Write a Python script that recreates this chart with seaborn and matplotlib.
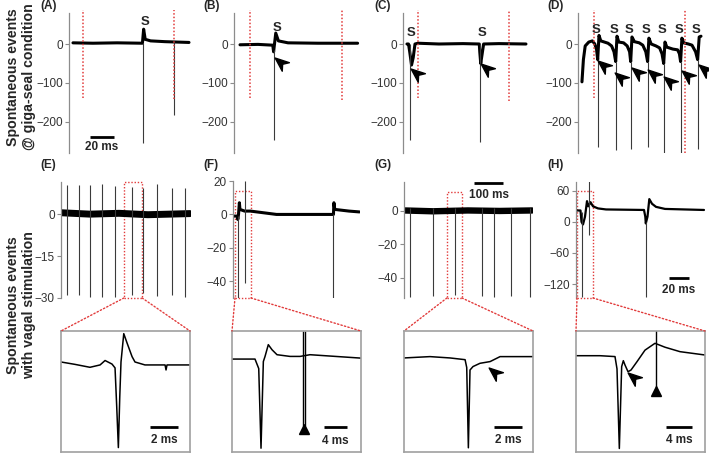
import matplotlib
matplotlib.use("Agg")
import matplotlib.pyplot as plt
import seaborn as sns
from matplotlib.path import Path
from matplotlib.markers import MarkerStyle
from matplotlib.transforms import Affine2D
from matplotlib.patches import Rectangle, ConnectionPatch

sns.set_style("white")
plt.rcParams['font.family'] = ['Liberation Sans', 'DejaVu Sans']

# ---------------- data (ms, mV) ----------------
# (A) giga-seal, single spike
a_t = [3.3, 20, 40, 61.2, 62.2, 63.5, 68, 80, 100]
a_v = [3, 2, 3, 2, 38, 12, 8, 6, 4]
a_spk_t = [61.7, 87.5]
a_spk_lo = [-254, -182]
a_spk_hi = [2, 4]
a_red_t = [11.7, 87.5]
a_red_lo = [-138, -140]
a_s_t = [63.3]
a_s_v = [57]
a_arr_t = []
a_arr_v = []

# (B)
b_t = [5, 20, 32.3, 33.0, 34.8, 37, 45, 70, 103]
b_v = [-2, -1, -3, -20, 28, 8, 3, 2, 2]
b_spk_t = [33.5]
b_spk_lo = [-246]
b_spk_hi = [-15]
b_red_t = [13.3, 90]
b_red_lo = [-138, -143]
b_s_t = [35.8]
b_s_v = [40]
b_arr_t = [38.3]
b_arr_v = [-46]

# (C)
c_t = [3.3, 4.6, 5.6, 7.1, 8.5, 10.0, 12.5, 30, 50, 63.6, 64.0, 64.8, 66.0, 67.2, 80, 102.5]
c_v = [0, 0, -20, -54, -35, 0, 2, 0, 1, 0, -20, -50, -25, 0, 1, 0]
c_spk_t = [5.9, 64.4]
c_spk_lo = [-246, -251]
c_spk_hi = [0, 0]
c_red_t = [12.5, 88.3]
c_red_lo = [-138, -147]
c_s_t = [6.7, 65.8]
c_s_v = [28, 28]
c_arr_t = [10.8, 69.2]
c_arr_v = [-75, -62]

# (D) repetitive spiking
d_t = [3.3, 4.5, 6, 9, 12, 14, 15.5, 16.4,
       17.5, 19, 22, 25, 28, 30, 31.4,
       32.5, 34, 38, 41, 43, 43.9,
       45, 47, 51, 54, 56.5, 58,
       59.1, 61, 65, 68, 70, 71.4,
       72.5, 74, 79, 83, 84.5, 85.5,
       86.6, 88, 92, 95, 98, 99.7,
       101, 102.5]
d_v = [-97, -40, -5, 5, 8, 0, -15, -40,
       22, 8, 5, 2, -5, -20, -45,
       20, 5, 3, -5, -20, -45,
       18, 6, 3, -3, -20, -45,
       15, 0, -5, -10, -25, -50,
       5, -8, -13, -15, -25, -45,
       15, 3, 0, -3, -20, -40,
       18, 20]
d_spk_t = [16.7, 31.7, 44.2, 58.3, 71.7, 85.8, 100.0]
d_spk_lo = [-264, -272, -268, -264, -279, -279, -268]
d_spk_hi = [-40, -45, -45, -45, -50, -45, -40]
d_red_t = [13.3, 89.2]
d_red_lo = [-138, -280]
d_s_t = [15.4, 30.4, 42.9, 57.0, 70.4, 84.5, 98.7]
d_s_v = [36, 36, 36, 36, 36, 36, 36]
d_arr_t = [21.1, 35, 48.9, 62.8, 76.1, 90.6, 105]
d_arr_v = [-54, -84, -71, -77, -94, -79, -64]

# (E) vagal stimulation
e_t = [0, 100, 200, 300, 445]
e_v = [0.5, 0, 0.3, -0.2, 0.2]
e_spk_t = [19.5, 62.1, 100, 140.3, 186.3, 243.7, 283.9, 332.2, 383.9, 427.8]
e_spk_lo = [-28.9, -28.9, -29.5, -29.5, -29.5, -28.9, -28.3, -29.3, -28.9, -29.5]
e_spk_hi = [10.4, 10.4, 10.4, 10.7, 10.0, 9.8, 9.2, 10.7, 9.5, 9.5]
e_box = [217, 280, -30, 11.4]

# (F)
f_t = [0, 15, 16.5, 19, 22, 24, 40, 60, 150, 340, 346.5, 348, 351, 400, 436]
f_v = [-1, -1, -3, 0, 7, 3, 2, 2, 0, 0, 0, 7, 3, 2, 1.5]
f_spk_t = [17.2, 41.4, 345]
f_spk_lo = [-50, -41, -50]
f_spk_hi = [-1, 20, 0]
f_box = [6.9, 62, -50, 13.9]

# (G)
g_t = [0, 100, 220, 330, 442]
g_v = [0.3, -0.2, 0.3, 0, 0.3]
g_spk_t = [20.7, 101.2, 176, 270, 310.5, 368, 434.7]
g_spk_lo = [-51.5, -51, -50.5, -51, -51.5, -51, -51.5]
g_spk_hi = [2, 2, 2, 2, 2, 2, 2]
g_box = [148, 200, -52, 11.3]

# (H)
h_t = [0, 4.5, 5.5, 7, 9, 11, 12.3, 14.5, 17, 22, 30, 68, 69.3, 69.8,
       71.5, 73.3, 76, 80, 89, 128]
h_v = [22, 22, 0, -5, 10, 40, 30, 38, 30, 26, 24, 23, 10, -3,
       10, 44, 35, 29, 25, 23]
h_spk_t = [6.3, 13.3, 70.2]
h_spk_lo = [-146, -25, -146]
h_spk_hi = [20, 78, 0]
h_box = [1, 17, -147, 60]

# insets (expanded time base)
ei_t = [0, 1.0, 2.09, 2.82, 3.18, 3.68, 3.9, 4.02, 4.14, 4.24, 4.33,
        4.53, 4.77, 5.13, 5.34, 6.06, 7.51, 7.58, 7.65, 9.31]
ei_v = [0, -0.8, -1.8, -1.0, 0.5, -0.7, -2.0, -15, -29, -12, 0,
        9.6, 6.4, 1.8, 0, -1.0, -1.0, -2.7, -1.0, -1.0]

fi_t = [0, 3.94, 4.58, 4.97, 5.37, 5.66, 6.22, 6.86, 7.71, 9.94, 11.66, 13.37, 22.1]
fi_v = [0, 0, -5, -47, -1.3, 1.4, 7.6, 4.9, 2.3, 1.4, 1.4, 2.3, 0.5]
fi_art_t = [12.12, 12.51]
fi_art_lo = [-35.4, -35.4]
fi_art_hi = [15, 15]

gi_t = [0, 1.9, 3.37, 4.47, 4.59, 4.71, 4.83, 5.05, 5.56, 6.3, 7.03, 9.44]
gi_v = [0, 0.7, 0, -0.9, -5, -47, -6.3, -4.5, -2.8, -1.9, 0.7, 0.7]
gi_arr = [6.61, -7.3]

hi_t = [0, 3.6, 5.85, 6.15, 6.5, 6.85, 7.1, 7.35, 7.8, 8.25, 9.15,
        10.35, 11.85, 13.35, 15.6, 19.35]
hi_v = [22.5, 22.5, 21, 0, -136, 4, 14, 6.6, -4.8, -2, 12.3,
        32, 43.7, 37, 29.4, 23.7]
hi_art_t = [11.93]
hi_art_lo = [-36]
hi_art_hi = [70]
hi_arr = [8.6, -14.4]

# ---------------- layout ----------------
W, H = 709, 453
RED = '#e23b3b'
GREY = '#8c8c8c'

fig = plt.figure(figsize=(W / 100, H / 100), dpi=100)


def px_ax(l, t, r, b):
    return fig.add_axes([l / W, 1 - b / H, (r - l) / W, (b - t) / H])


def fx(x):
    return x / W


def fy(y):
    return 1 - y / H


# arrowhead marker (notched), pointing up-left
arr_path = Path([(1, 0), (-1, 0.8), (-0.4, 0), (-1, -0.8), (1, 0)],
                [Path.MOVETO, Path.LINETO, Path.LINETO, Path.LINETO, Path.CLOSEPOLY])
arr_mk = MarkerStyle(arr_path, transform=Affine2D().rotate_deg(140))


def trace_ax(rect, xlim, ylim, yticks):
    ax = px_ax(*rect)
    ax.set_xlim(*xlim)
    ax.set_ylim(*ylim)
    for s in ['top', 'right', 'bottom']:
        ax.spines[s].set_visible(False)
    ax.spines['left'].set_color(GREY)
    ax.spines['left'].set_linewidth(0.9)
    ax.set_xticks([])
    ax.set_yticks(yticks)
    ax.tick_params(axis='y', length=3, width=0.8, color=GREY, labelsize=8.5,
                   labelcolor='#333333', pad=1.5, direction='out', left=True)
    ax.patch.set_alpha(0)
    return ax


def draw(ax, t, v, spk_t, spk_lo, spk_hi, lw):
    sns.lineplot(x=t, y=v, ax=ax, color='k', lw=lw, estimator=None, sort=False)
    ax.vlines(spk_t, spk_lo, spk_hi, colors='#3a3a3a', lw=0.8)
    ax.set(xlabel='', ylabel='')


def inset_ax(rect, xlim, ylim):
    ax = px_ax(*rect)
    ax.set_xlim(*xlim)
    ax.set_ylim(*ylim)
    ax.set_xticks([])
    ax.set_yticks([])
    for s in ax.spines.values():
        s.set_color('#a0a0a0')
        s.set_linewidth(1.2)
    return ax


def scalebar(ax, t0, t1, v, vt, label):
    ax.plot([t0, t1], [v, v], color='k', lw=2, clip_on=False, solid_capstyle='butt')
    ax.text((t0 + t1) / 2, vt, label, ha='center', va='center', fontsize=8.5,
            fontweight='bold', clip_on=False)


# ---- top row ----
top_ylim = (-279.5, 79.5)
top_ticks = [0, -100, -200]
top_panels = [
    ((69, 13, 192, 153), (0, 102.5), a_t, a_v, a_spk_t, a_spk_lo, a_spk_hi, a_red_t, a_red_lo, a_s_t, a_s_v, a_arr_t, a_arr_v),
    ((234, 13, 360, 153), (0, 105), b_t, b_v, b_spk_t, b_spk_lo, b_spk_hi, b_red_t, b_red_lo, b_s_t, b_s_v, b_arr_t, b_arr_v),
    ((403, 13, 528, 153), (0, 104.2), c_t, c_v, c_spk_t, c_spk_lo, c_spk_hi, c_red_t, c_red_lo, c_s_t, c_s_v, c_arr_t, c_arr_v),
    ((578, 13, 704, 153), (0, 105), d_t, d_v, d_spk_t, d_spk_lo, d_spk_hi, d_red_t, d_red_lo, d_s_t, d_s_v, d_arr_t, d_arr_v),
]
top_axes = []
for rect, xl, t, v, st, slo, shi, rt, rlo, s_t, s_v, ar_t, ar_v in top_panels:
    ax = trace_ax(rect, xl, top_ylim, top_ticks)
    draw(ax, t, v, st, slo, shi, 2.2)
    ax.vlines(rt, rlo, [86] * len(rt), colors=RED, linestyles=(0, (1, 1.3)), lw=1.1,
              clip_on=False)
    for xs, ys in zip(s_t, s_v):
        ax.text(xs, ys, 'S', ha='center', va='center', fontsize=9.5, fontweight='bold')
    if ar_t:
        ax.plot(ar_t, ar_v, ls='none', marker=arr_mk, ms=10, color='k', clip_on=False)
    top_axes.append(ax)

scalebar(top_axes[0], 17.5, 37.5, -238, -264, '20 ms')

# ---- middle row ----
ax_e = trace_ax((61, 182, 191, 298), (0, 448.5), (-30, 11.5), [0, -15, -30])
draw(ax_e, e_t, e_v, e_spk_t, e_spk_lo, e_spk_hi, 5.0)
ax_f = trace_ax((233, 181, 360, 298), (0, 438), (-50, 20), [20, 0, -20, -40])
draw(ax_f, f_t, f_v, f_spk_t, f_spk_lo, f_spk_hi, 2.2)
ax_g = trace_ax((404, 182, 533, 298), (0, 445), (-52, 17.3), [0, -20, -40])
draw(ax_g, g_t, g_v, g_spk_t, g_spk_lo, g_spk_hi, 4.6)
ax_h = trace_ax((576, 182, 705, 298), (0, 129), (-147, 77), [60, 0, -60, -120])
draw(ax_h, h_t, h_v, h_spk_t, h_spk_lo, h_spk_hi, 1.6)

scalebar(ax_g, 241.5, 341.5, 16.7, 9.5, '100 ms')
scalebar(ax_h, 93, 113, -108, -132, '20 ms')

# ---- insets ----
in_e = inset_ax((61, 331, 190, 452), (0, 9.31), (-30.5, 10.5))
sns.lineplot(x=ei_t, y=ei_v, ax=in_e, color='k', lw=1.1, estimator=None, sort=False)
scalebar(in_e, 6.43, 8.43, -21.9, -26.3, '2 ms')

in_f = inset_ax((232, 331, 361, 452), (0, 22.1), (-49, 14.8))
sns.lineplot(x=fi_t, y=fi_v, ax=in_f, color='k', lw=1.1, estimator=None, sort=False)
in_f.vlines(fi_art_t, fi_art_lo, fi_art_hi, colors='k', lw=1.0)
in_f.plot([sum(fi_art_t) / 2], [-37], marker='^', ms=7, color='k')
scalebar(in_f, 15.77, 19.77, -36, -43, '4 ms')

in_g = inset_ax((404, 331, 533, 452), (0, 9.44), (-49.2, 14.1))
sns.lineplot(x=gi_t, y=gi_v, ax=in_g, color='k', lw=1.1, estimator=None, sort=False)
in_g.plot([gi_arr[0]], [gi_arr[1]], ls='none', marker=arr_mk, ms=10, color='k')
scalebar(in_g, 6.61, 8.61, -36.1, -43, '2 ms')

in_h = inset_ax((576, 331, 705, 452), (0, 19.35), (-142, 64.7))
sns.lineplot(x=hi_t, y=hi_v, ax=in_h, color='k', lw=1.1, estimator=None, sort=False)
in_h.vlines(hi_art_t, hi_art_lo, hi_art_hi, colors='k', lw=1.0)
in_h.plot(hi_art_t, [-38], marker='^', ms=7, color='k')
in_h.plot([hi_arr[0]], [hi_arr[1]], ls='none', marker=arr_mk, ms=10, color='k')
scalebar(in_h, 13.45, 17.45, -99.4, -121.6, '4 ms')

for a in [in_e, in_f, in_g, in_h]:
    a.set(xlabel='', ylabel='')

# ---- zoom boxes and connectors ----
for ax_m, ax_i, box in [(ax_e, in_e, e_box), (ax_f, in_f, f_box),
                        (ax_g, in_g, g_box), (ax_h, in_h, h_box)]:
    x0, x1, y0, y1 = box
    ax_m.add_patch(Rectangle((x0, y0), x1 - x0, y1 - y0, fill=False, ec=RED,
                             ls=(0, (1, 1.3)), lw=1.0, clip_on=False))
    for xa, xb in [(x0, 0), (x1, 1)]:
        cp = ConnectionPatch(xyA=(xa, y0), coordsA=ax_m.transData,
                             xyB=(xb, 1), coordsB=ax_i.transAxes,
                             color=RED, ls=(0, (1, 1.6)), lw=1.0)
        fig.add_artist(cp)

# ---- labels ----
for lab, x, y in [('(A)', 40, 6), ('(B)', 203, 6), ('(C)', 374, 6), ('(D)', 547, 6),
                  ('(E)', 40, 165), ('(F)', 203, 165), ('(G)', 374, 165), ('(H)', 547, 165)]:
    fig.text(fx(x), fy(y), lab, ha='left', va='center', fontsize=8.5, fontweight='bold')

fig.text(fx(21), fy(77), 'Spontaneous events\n@ giga-seal condition', rotation=90,
         ha='center', va='center', fontsize=10.2, fontweight='bold',
         multialignment='center', linespacing=1.2)
fig.text(fx(21), fy(305), 'Spontaneous events\nwith vagal stimulation', rotation=90,
         ha='center', va='center', fontsize=10.2, fontweight='bold',
         multialignment='center', linespacing=1.2)

fig.savefig('out.png', dpi=100)
